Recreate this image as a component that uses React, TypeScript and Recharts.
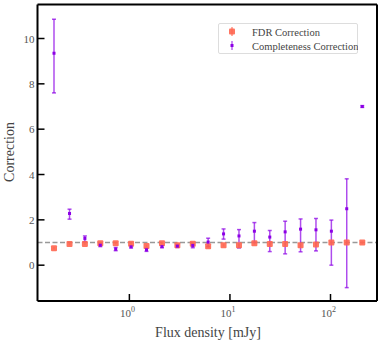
import { ScatterChart, Scatter, XAxis, YAxis, ErrorBar, ReferenceLine } from 'recharts';

// flux density bin centres [mJy]
const fluxBins = [0.178, 0.254, 0.361, 0.514, 0.731, 1.04, 1.48, 2.11, 3.0, 4.27, 6.07, 8.64, 12.3, 17.5, 24.9, 35.4, 50.4, 71.7, 102, 145, 207];

const fdrCorr = [0.75, 0.93, 0.94, 0.97, 0.97, 0.95, 0.85, 0.97, 0.88, 0.95, 0.83, 0.88, 0.88, 0.97, 0.94, 0.94, 0.88, 0.91, 1.0, 1.0, 1.0];
const fdrErr = [0.06, 0.05, 0.05, 0.05, 0.05, 0.05, 0.05, 0.05, 0.05, 0.05, 0.06, 0.06, 0.06, 0.06, 0.06, 0.06, 0.06, 0.06, 0.06, 0.06, 0.05];

const complCorr = [9.35, 2.28, 1.18, 0.88, 0.71, 0.81, 0.68, 0.82, 0.84, 0.87, 1.02, 1.38, 1.29, 1.5, 1.24, 1.47, 1.59, 1.56, 1.5, 2.49, 7.0];
const complErrLow = [1.75, 0.25, 0.14, 0.06, 0.07, 0.05, 0.07, 0.05, 0.06, 0.1, 0.2, 0.23, 0.53, 0.5, 0.64, 0.97, 1.0, 0.93, 1.5, 3.48, 0.04];
const complErrHigh = [1.5, 0.19, 0.11, 0.06, 0.07, 0.05, 0.07, 0.05, 0.06, 0.1, 0.17, 0.22, 0.28, 0.38, 0.29, 0.47, 0.45, 0.5, 0.49, 1.32, 0.04];

const xMajor = [1, 10, 100];
const xMinor = [0.2, 0.3, 0.4, 0.5, 0.6, 0.7, 0.8, 0.9, 2, 3, 4, 5, 6, 7, 8, 9, 20, 30, 40, 50, 60, 70, 80, 90, 200];
const yMajor = [0, 2, 4, 6, 8, 10];
const yMinor = [-1.5, -1, -0.5, 0.5, 1, 1.5, 2.5, 3, 3.5, 4.5, 5, 5.5, 6.5, 7, 7.5, 8.5, 9, 9.5, 10.5, 11, 11.5];

const fdrData = fluxBins.map((x, i) => ({ x, y: fdrCorr[i], err: fdrErr[i] }));
const complData = fluxBins.map((x, i) => ({ x, y: complCorr[i], err: [complErrLow[i], complErrHigh[i]] }));

const W = 382;
const H = 345;
const L = 37.5;
const R = 377;
const T = 4.5;
const B = 301;

const X_DOMAIN = [0.122, 290];
const Y_DOMAIN = [-1.58, 11.5];

const FONT = '"Liberation Serif", serif';
const TICK_COLOR = '#555';
const SALMON = '#ff6650';
const PURPLE = '#8c00e6';

const majorLine = { stroke: '#000', strokeWidth: 1.5 };
const minorLine = { stroke: '#000', strokeWidth: 1 };
const frame = { stroke: '#000', strokeWidth: 2 };

const BottomLabel = (props: any) => {
  const { x, payload } = props;
  return (
    <text x={x - 2} y={B + 16} textAnchor="middle" fontFamily={FONT} fontSize={11} fill={TICK_COLOR}>
      10<tspan dy={-5} fontSize={8}>{Math.round(Math.log10(payload.value))}</tspan>
    </text>
  );
};

const LeftLabel = (props: any) => {
  const { y, payload } = props;
  return (
    <text x={L - 3} y={y + 4} textAnchor="end" fontFamily={FONT} fontSize={11} fill={TICK_COLOR}>
      {payload.value}
    </text>
  );
};

const SquareMark = (props: any) => {
  const { cx, cy } = props;
  return <rect x={cx - 3} y={cy - 3} width={6} height={6} rx={1} fill={SALMON} fillOpacity={0.9} />;
};

const DotMark = (props: any) => {
  const { cx, cy } = props;
  return <rect x={cx - 1.5} y={cy - 1.5} width={3} height={3} fill={PURPLE} />;
};

const LegendBox = () => (
  <div
    style={{
      position: 'absolute',
      left: 218,
      top: 23,
      width: 140,
      height: 31,
      boxSizing: 'border-box',
      border: '1px solid #ddd',
      borderRadius: 2,
      background: '#fff',
    }}
  >
    <svg width={140} height={31} style={{ position: 'absolute', left: -1, top: -1 }}>
      <line x1={14} x2={14} y1={4} y2={13} stroke={SALMON} strokeWidth={1.5} opacity={0.7} />
      <rect x={11} y={5.5} width={6} height={6} rx={1} fill={SALMON} fillOpacity={0.9} />
      <line x1={14} x2={14} y1={18} y2={27} stroke={PURPLE} strokeWidth={1.5} opacity={0.6} />
      <rect x={12.5} y={21} width={3} height={3} fill={PURPLE} />
      <text x={34} y={12.5} fontFamily={FONT} fontSize={10.5} fill="#444">FDR Correction</text>
      <text x={34} y={26.5} fontFamily={FONT} fontSize={10.5} fill="#444">Completeness Correction</text>
    </svg>
  </div>
);

export default function App() {
  return (
    <div style={{ position: 'absolute', left: 0, top: 0, width: W, height: H, background: '#fff' }}>
      <ScatterChart width={W} height={H} margin={{ top: T, right: W - R, bottom: H - B, left: L }}>
        {/* inward ticks on all four sides: major and minor ticks on separate mirrored axes */}
        <XAxis xAxisId="bottom" dataKey="x" type="number" scale="log" domain={X_DOMAIN} allowDataOverflow
          ticks={xMajor} interval={0} height={1} mirror tickSize={7} tickLine={majorLine} axisLine={frame} tick={<BottomLabel />} />
        <XAxis xAxisId="bottomMinor" dataKey="x" type="number" scale="log" domain={X_DOMAIN} allowDataOverflow
          ticks={xMinor} interval={0} height={1} mirror tickSize={4} tickLine={minorLine} axisLine={false} tick={false} />
        <XAxis xAxisId="top" orientation="top" dataKey="x" type="number" scale="log" domain={X_DOMAIN} allowDataOverflow
          ticks={xMajor} interval={0} height={1} mirror tickSize={7} tickLine={majorLine} axisLine={frame} tick={false} />
        <XAxis xAxisId="topMinor" orientation="top" dataKey="x" type="number" scale="log" domain={X_DOMAIN} allowDataOverflow
          ticks={xMinor} interval={0} height={1} mirror tickSize={4} tickLine={minorLine} axisLine={false} tick={false} />
        <YAxis yAxisId="left" dataKey="y" type="number" domain={Y_DOMAIN} allowDataOverflow
          ticks={yMajor} interval={0} width={1} mirror tickSize={7} tickLine={majorLine} axisLine={frame} tick={<LeftLabel />} />
        <YAxis yAxisId="leftMinor" dataKey="y" type="number" domain={Y_DOMAIN} allowDataOverflow
          ticks={yMinor} interval={0} width={1} mirror tickSize={4} tickLine={minorLine} axisLine={false} tick={false} />
        <YAxis yAxisId="right" orientation="right" dataKey="y" type="number" domain={Y_DOMAIN} allowDataOverflow
          ticks={yMajor} interval={0} width={1} mirror tickSize={7} tickLine={majorLine} axisLine={frame} tick={false} />
        <YAxis yAxisId="rightMinor" orientation="right" dataKey="y" type="number" domain={Y_DOMAIN} allowDataOverflow
          ticks={yMinor} interval={0} width={1} mirror tickSize={4} tickLine={minorLine} axisLine={false} tick={false} />
        <ReferenceLine xAxisId="bottom" yAxisId="left" y={1} stroke="#999" strokeWidth={1.5} strokeDasharray="5 2.5" />
        <Scatter xAxisId="bottom" yAxisId="left" data={fdrData} name="FDR Correction" shape={<SquareMark />} isAnimationActive={false}>
          <ErrorBar dataKey="err" direction="y" width={0} stroke={SALMON} strokeWidth={1.5} strokeOpacity={0.7} />
        </Scatter>
        <Scatter xAxisId="bottom" yAxisId="left" data={complData} name="Completeness Correction" shape={<DotMark />} isAnimationActive={false}>
          <ErrorBar dataKey="err" direction="y" width={2} stroke={PURPLE} strokeWidth={1.5} strokeOpacity={0.7} />
        </Scatter>
        <text x={208} y={337} textAnchor="middle" fontFamily={FONT} fontSize={14} fill="#444">
          Flux density [mJy]
        </text>
        <text x={14} y={152} textAnchor="middle" fontFamily={FONT} fontSize={14} fill="#444" transform="rotate(-90 14 152)">
          Correction
        </text>
      </ScatterChart>
      <LegendBox />
    </div>
  );
}
